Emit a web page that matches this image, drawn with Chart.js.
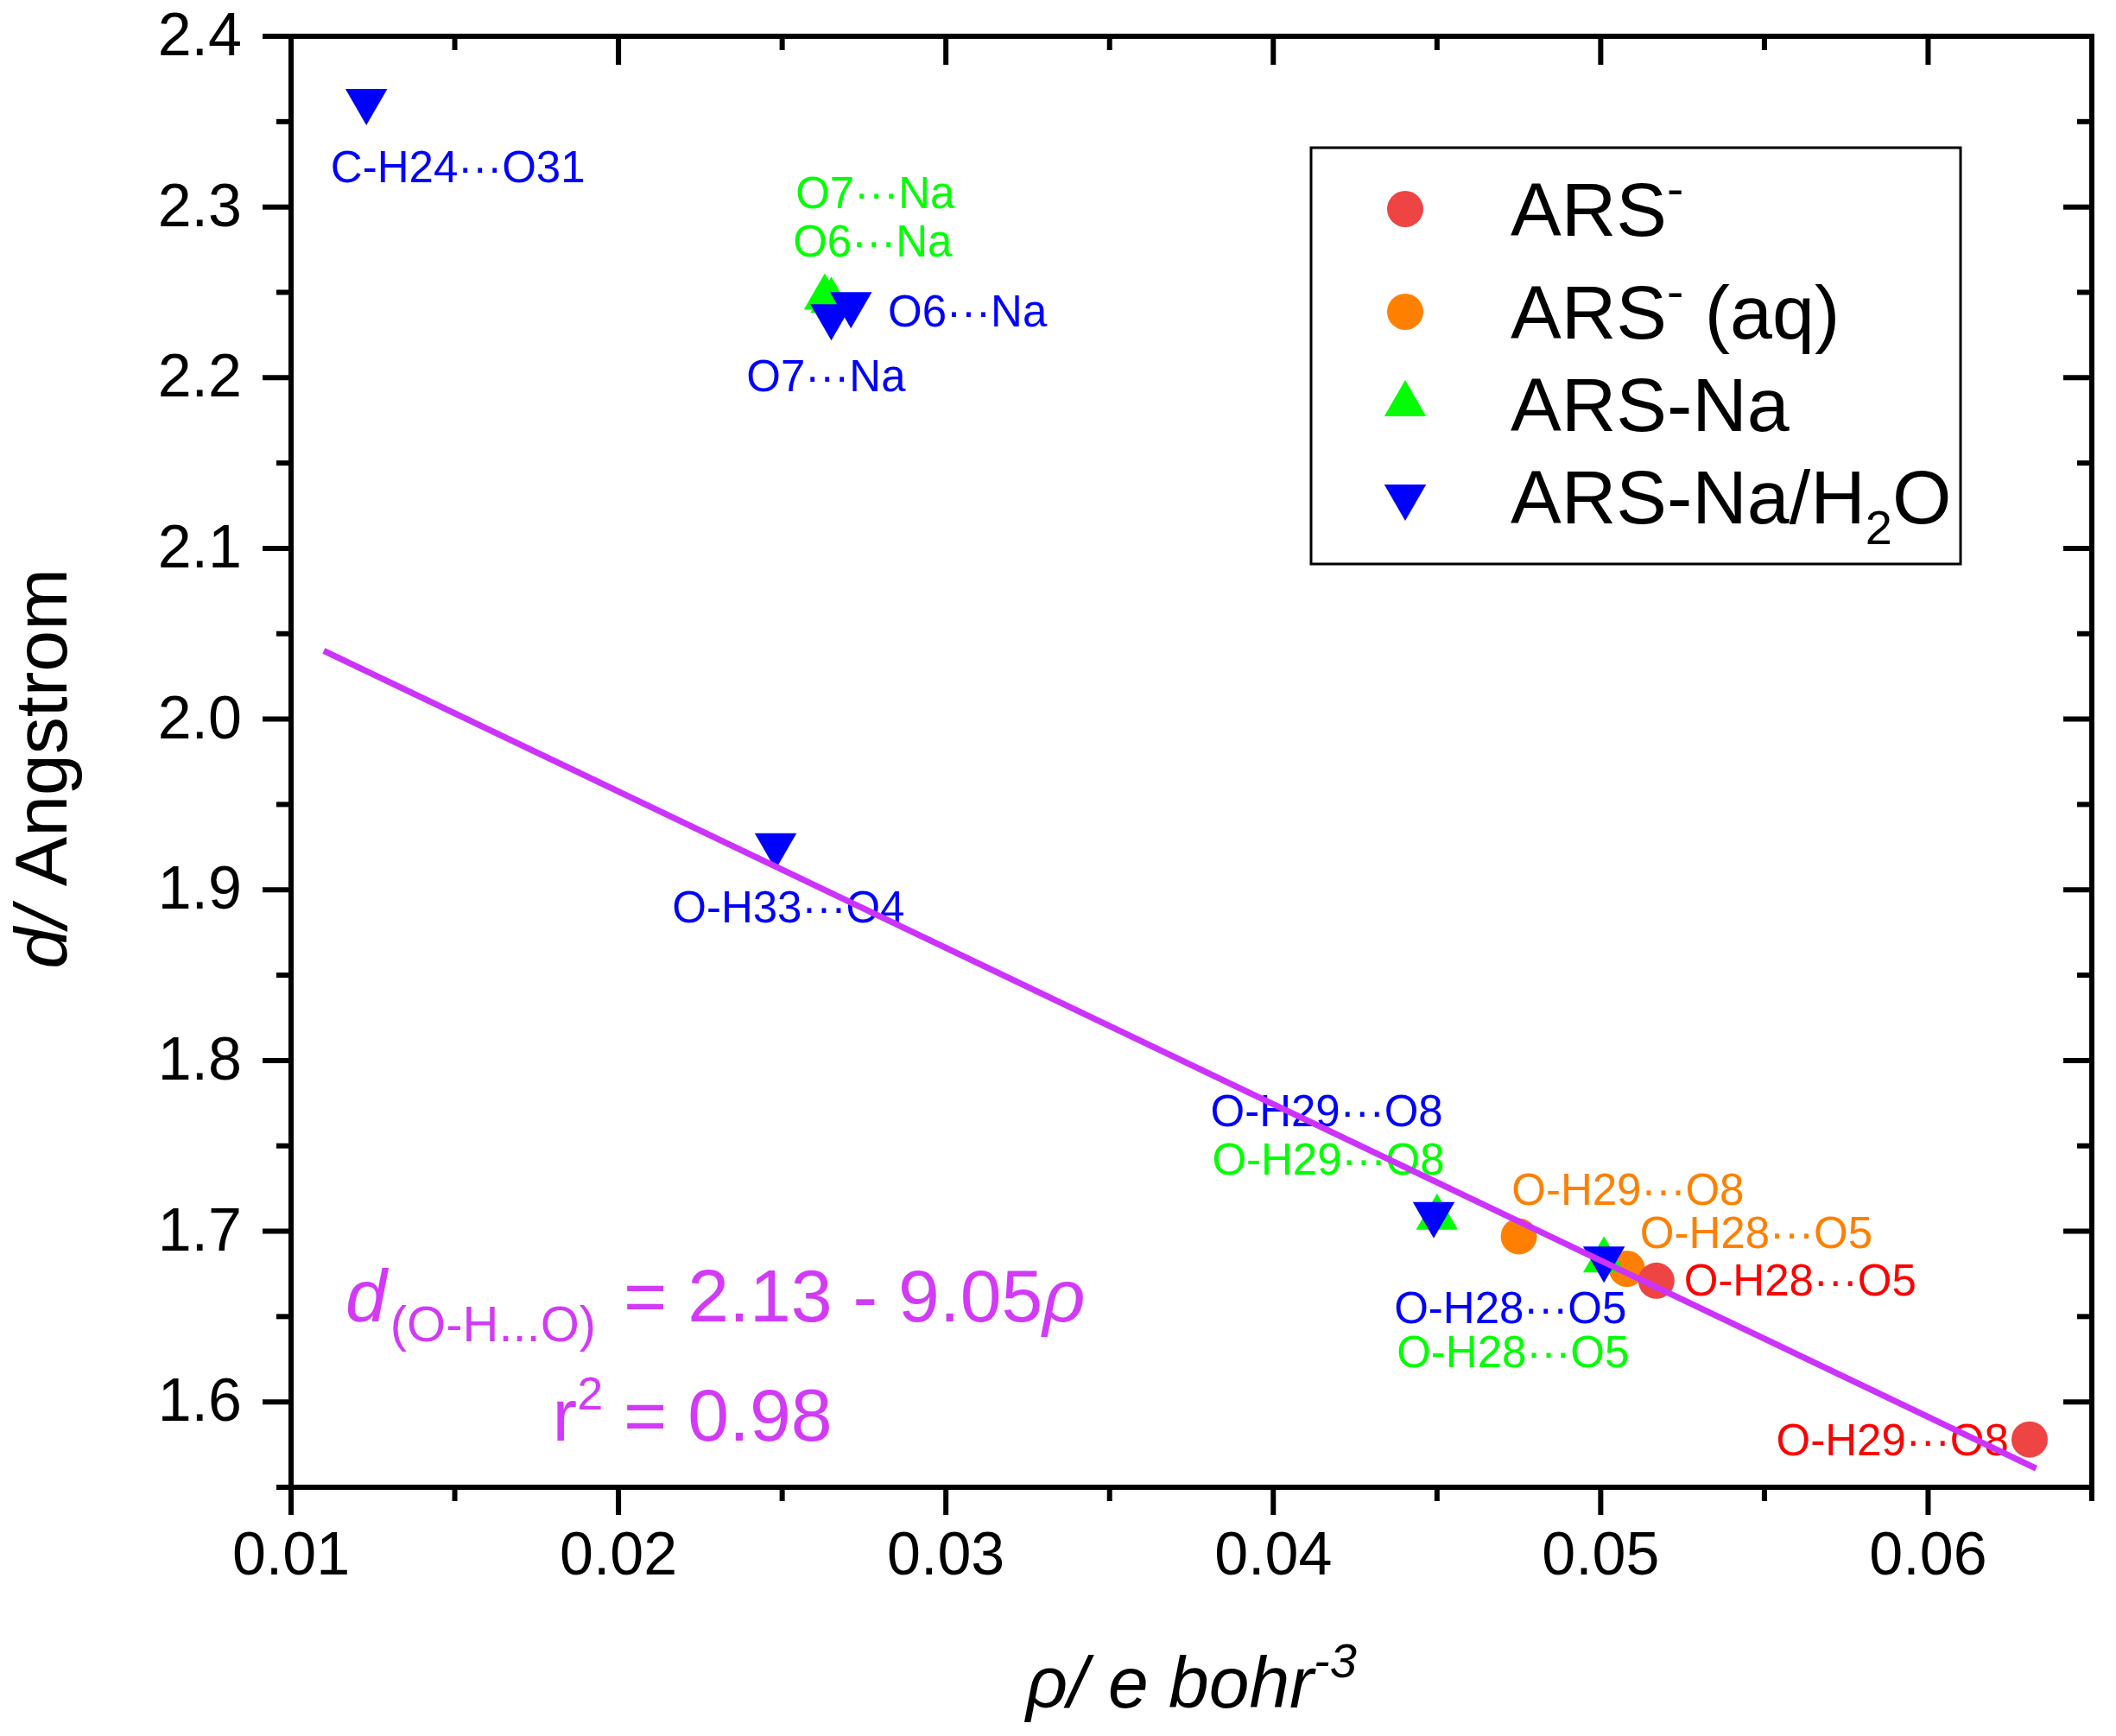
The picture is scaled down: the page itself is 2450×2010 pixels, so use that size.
<!DOCTYPE html>
<html>
<head>
<meta charset="utf-8">
<script src="https://cdn.jsdelivr.net/npm/chart.js@4.4.1/dist/chart.umd.min.js"></script>
<style>
  html, body { margin: 0; padding: 0; background: #fff; }
  canvas { display: block; }
</style>
</head>
<body>
<canvas id="rhoChart" width="2450" height="2010" style="width:2450px;height:2010px"></canvas>
<script>
// values (rho in e bohr^-3, d in Angstrom)
const arsX = [0.0517, 0.0631]
const arsY = [1.671, 1.578]
const arsAqX = [0.0475, 0.0508]
const arsAqY = [1.697, 1.678]
const arsNaX = [0.0263, 0.0265, 0.0450, 0.0501]
const arsNaY = [2.247, 2.245, 1.708, 1.683]
const arsNaWX = [0.0123, 0.0265, 0.0271, 0.0248, 0.0449, 0.0501]
const arsNaWY = [2.362, 2.236, 2.243, 1.926, 1.710, 1.684]
const fitX = [0.0110, 0.0633]
const fitY = [2.040, 1.561]

const xTicks = [0.01, 0.02, 0.03, 0.04, 0.05, 0.06]
const yTicks = [1.6, 1.7, 1.8, 1.9, 2.0, 2.1, 2.2, 2.3, 2.4]
const xMinor = [0.015, 0.025, 0.035, 0.045, 0.055, 0.065]
const yMinor = [1.55, 1.65, 1.75, 1.85, 1.95, 2.05, 2.15, 2.25, 2.35]

// bond labels: text, series, anchor (left, baseline) in data units
const bondText = ['C-H24···O31', 'O7···Na', 'O6···Na', 'O6···Na', 'O7···Na', 'O-H33···O4',
  'O-H29···O8', 'O-H29···O8', 'O-H29···O8', 'O-H28···O5', 'O-H28···O5', 'O-H28···O5', 'O-H28···O5', 'O-H29···O8']
const bondSeries = ['w', 'na', 'na', 'w', 'w', 'w', 'w', 'na', 'aq', 'aq', 'ars', 'w', 'na', 'ars']
const bondX = [0.01121, 0.02541, 0.02533, 0.02823, 0.02391, 0.02164, 0.03808, 0.03813, 0.04728, 0.05120, 0.05254, 0.04369, 0.04377, 0.05536]
const bondY = [2.3144, 2.2992, 2.2709, 2.2299, 2.1919, 1.8810, 1.7615, 1.7332, 1.7154, 1.6901, 1.6623, 1.6461, 1.6203, 1.5686]

const labelColor = { ars: '#ff0000', aq: '#ff8000', na: '#00ff00', w: '#0000ff' }
const markerColor = { ars: '#ef4444', aq: '#ff8000', na: '#00ff00', w: '#0000ff' }
const fitColor = '#cc33ff'
const eqColor = '#d23af7'

const FONT = '"Liberation Sans", Arial, Helvetica, sans-serif'
function font(size, italic) {
    return (italic ? 'italic ' : '') + size + 'px ' + FONT
}

function pts(xs, ys) {
    return xs.map((x, i) => ({ x: x, y: ys[i] }))
}

function runsWidth(ctx, runs) {
    let w = 0
    runs.forEach(r => {
        ctx.font = font(r.size, r.italic)
        w += ctx.measureText(r.t).width + (r.gap || 0)
    })
    return w
}

function drawRuns(ctx, x, y, runs) {
    runs.forEach(r => {
        x += r.gap || 0
        ctx.font = font(r.size, r.italic)
        ctx.fillText(r.t, x, y + (r.dy || 0))
        x += ctx.measureText(r.t).width
    })
    return x
}

const legendItems = [
    { runs: [{ t: 'ARS', size: 88 }, { t: '-', size: 58, dy: -35 }], style: 'circle', r: 21, rot: 0, color: markerColor.ars, dy: 71 },
    { runs: [{ t: 'ARS', size: 88 }, { t: '-', size: 58, dy: -35 }, { t: ' (aq)', size: 88 }], style: 'circle', r: 21, rot: 0, color: markerColor.aq, dy: 190 },
    { runs: [{ t: 'ARS-Na', size: 88 }], style: 'triangle', r: 28, rot: 0, color: markerColor.na, dy: 297 },
    { runs: [{ t: 'ARS-Na/H', size: 88 }, { t: '2', size: 56, dy: 24 }, { t: 'O', size: 88 }], style: 'triangle', r: 28, rot: 180, color: markerColor.w, dy: 404 }
]

const decorations = {
    id: 'decorations',
    beforeDatasetsDraw(chart) {
        const ctx = chart.ctx
        const xs = chart.scales.x
        const ys = chart.scales.y
        ctx.save()
        ctx.textBaseline = 'alphabetic'
        ctx.textAlign = 'left'
        // bond labels
        ctx.font = font(51)
        bondText.forEach((t, i) => {
            ctx.fillStyle = labelColor[bondSeries[i]]
            ctx.fillText(t, xs.getPixelForValue(bondX[i]), ys.getPixelForValue(bondY[i]))
        })
        // fit equation
        ctx.fillStyle = eqColor
        drawRuns(ctx, xs.getPixelForValue(0.01166), ys.getPixelForValue(1.6470), [
            { t: 'd', size: 86, italic: true },
            { t: '(O-H...O)', size: 58, dy: 23, gap: 4 },
            { t: ' = 2.13 - 9.05', size: 86, gap: 8 },
            { t: 'ρ', size: 86, italic: true }
        ])
        drawRuns(ctx, xs.getPixelForValue(0.01798), ys.getPixelForValue(1.5771), [
            { t: 'r', size: 86 },
            { t: '2', size: 54, dy: -36 },
            { t: ' = 0.98', size: 86 }
        ])
        ctx.restore()
    },
    afterDraw(chart) {
        const ctx = chart.ctx
        const ca = chart.chartArea
        const xs = chart.scales.x
        const ys = chart.scales.y
        ctx.save()
        ctx.strokeStyle = '#000'
        ctx.lineCap = 'butt'

        // ticks: outward on bottom/left, inward on top/right
        ctx.lineWidth = 6
        function vtick(x, y0, y1) { ctx.beginPath(); ctx.moveTo(x, y0); ctx.lineTo(x, y1); ctx.stroke() }
        function htick(y, x0, x1) { ctx.beginPath(); ctx.moveTo(x0, y); ctx.lineTo(x1, y); ctx.stroke() }
        xTicks.forEach(v => {
            const p = xs.getPixelForValue(v)
            vtick(p, ca.bottom, ca.bottom + 32)
            vtick(p, ca.top, ca.top + 33)
        })
        xMinor.forEach(v => {
            const p = xs.getPixelForValue(v)
            vtick(p, ca.bottom, ca.bottom + 16)
            vtick(p, ca.top, ca.top + 16)
        })
        yTicks.forEach(v => {
            const p = ys.getPixelForValue(v)
            htick(p, ca.left - 33, ca.left)
            htick(p, ca.right - 33, ca.right)
        })
        yMinor.forEach(v => {
            const p = ys.getPixelForValue(v)
            htick(p, ca.left - 17, ca.left)
            htick(p, ca.right - 17, ca.right)
        })

        // frame
        ctx.lineWidth = 6
        ctx.strokeRect(ca.left, ca.top, ca.right - ca.left, ca.bottom - ca.top)

        // y tick labels
        ctx.fillStyle = '#000'
        ctx.textAlign = 'right'
        ctx.textBaseline = 'alphabetic'
        ctx.font = font(70)
        yTicks.forEach(v => {
            ctx.fillText(v.toFixed(1), ca.left - 57, ys.getPixelForValue(v) + 22)
        })

        // axis titles
        ctx.textAlign = 'left'
        const xRuns = [{ t: 'ρ/ e bohr', size: 84, italic: true }, { t: '-3', size: 56, italic: true, dy: -35 }]
        const xw = runsWidth(ctx, xRuns)
        drawRuns(ctx, (ca.left + ca.right) / 2 - xw / 2, 1977, xRuns)

        const yRuns = [{ t: 'd/', size: 86, italic: true }, { t: ' Angstrom', size: 86 }]
        const yw = runsWidth(ctx, yRuns)
        ctx.save()
        ctx.translate(77, (ca.top + ca.bottom) / 2 + 8)
        ctx.rotate(-Math.PI / 2)
        drawRuns(ctx, -yw / 2, 0, yRuns)
        ctx.restore()

        // legend box
        const bx = ca.right - 904
        const by = ca.top + 129
        ctx.fillStyle = '#fff'
        ctx.fillRect(bx, by, 752, 482)
        ctx.lineWidth = 3
        ctx.strokeRect(bx, by, 752, 482)
        legendItems.forEach(it => {
            ctx.fillStyle = it.color
            Chart.helpers.drawPoint(ctx, { pointStyle: it.style, radius: it.r, rotation: it.rot, borderWidth: 0 }, bx + 109, by + it.dy)
            ctx.fillStyle = '#000'
            drawRuns(ctx, bx + 231, by + it.dy + 31, it.runs)
        })
        ctx.restore()
    }
}

const scatterBase = { showLine: false, borderWidth: 0, pointBorderWidth: 0, pointHoverRadius: 0 }

new Chart(document.getElementById('rhoChart').getContext('2d'), {
    type: 'scatter',
    data: {
        datasets: [
            { label: 'fit', data: pts(fitX, fitY), showLine: true, borderColor: fitColor, borderWidth: 7, pointRadius: 0, fill: false, order: 0 },
            Object.assign({ label: 'ARS-Na/H2O', data: pts(arsNaWX, arsNaWY), pointStyle: 'triangle', rotation: 180, pointRadius: 28, backgroundColor: markerColor.w, order: 1 }, scatterBase),
            Object.assign({ label: 'ARS-Na', data: pts(arsNaX, arsNaY), pointStyle: 'triangle', pointRadius: 28, backgroundColor: markerColor.na, order: 2 }, scatterBase),
            Object.assign({ label: 'ARS-', data: pts(arsX, arsY), pointStyle: 'circle', pointRadius: 21, backgroundColor: markerColor.ars, order: 3 }, scatterBase),
            Object.assign({ label: 'ARS- (aq)', data: pts(arsAqX, arsAqY), pointStyle: 'circle', pointRadius: 21, backgroundColor: markerColor.aq, order: 4 }, scatterBase)
        ]
    },
    options: {
        responsive: false,
        animation: false,
        devicePixelRatio: 1,
        events: [],
        layout: { padding: { top: 42, right: 25, left: 0, bottom: 0 } },
        plugins: {
            legend: { display: false },
            tooltip: { enabled: false }
        },
        scales: {
            x: {
                type: 'linear',
                min: 0.01,
                max: 0.065,
                grid: { display: false, drawTicks: false },
                border: { display: false },
                afterBuildTicks(s) { s.ticks = xTicks.map(v => ({ value: v })) },
                afterFit(s) { s.height = 288 },
                ticks: {
                    font: { family: FONT, size: 70 },
                    color: '#000',
                    padding: 40,
                    maxRotation: 0,
                    callback: v => v.toFixed(2)
                }
            },
            y: {
                type: 'linear',
                min: 1.55,
                max: 2.4,
                grid: { display: false, drawTicks: false },
                border: { display: false },
                afterBuildTicks(s) { s.ticks = yTicks.map(v => ({ value: v })) },
                afterFit(s) { s.width = 337 },
                ticks: { display: false }
            }
        }
    },
    plugins: [decorations]
})
</script>
</body>
</html>
